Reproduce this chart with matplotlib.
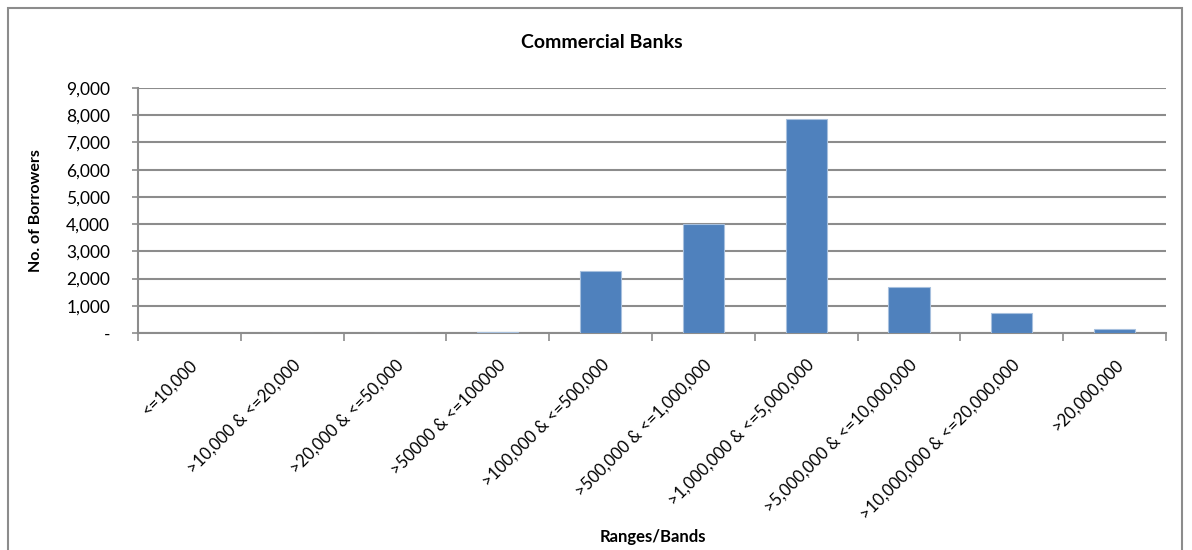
import matplotlib
matplotlib.use('Agg')
import matplotlib.pyplot as plt
from matplotlib.patches import Rectangle
from matplotlib.ticker import FuncFormatter
import numpy as np

plt.rcParams['font.family'] = ['Lato', 'DejaVu Sans']

bands = ['<=10,000', '>10,000 & <=20,000', '>20,000 & <=50,000', '>50000 & <=100000',
         '>100,000 & <=500,000', '>500,000 & <=1,000,000', '>1,000,000 & <=5,000,000',
         '>5,000,000 & <=10,000,000', '>10,000,000 & <=20,000,000', '>20,000,000']
borrowers = [2, 4, 6, 20, 2290, 4000, 7850, 1690, 740, 150]

fig = plt.figure(figsize=(11.92, 5.5), dpi=100)
fig.patches.append(Rectangle((0.007, -0.05), 0.985, 1.035, transform=fig.transFigure,
                             fill=False, edgecolor='#8c8c8c', linewidth=1.5))
ax = fig.add_axes([0.1158, 0.3945, 0.8624, 0.4455])

x = np.arange(len(bands))
ax.bar(x, borrowers, width=0.4, color='#4f81bd', edgecolor='#a7c0de', linewidth=0.8, zorder=3)

ax.set_xlim(-0.5, len(bands) - 0.5)
ax.set_ylim(0, 9000)
ax.set_yticks(np.arange(0, 9001, 1000))
ax.yaxis.set_major_formatter(FuncFormatter(lambda v, p: '-' if v == 0 else f'{int(v):,}'))
ax.grid(axis='y', color='#8c8c8c', linewidth=1.5, zorder=0)

ax.set_xticks(x)
ax.set_xticklabels(bands, rotation=45, ha='right', va='top', rotation_mode='anchor', fontsize=12)
ax.set_xticks(np.arange(-0.5, len(bands)), minor=True)
ax.tick_params(axis='x', which='major', length=0, pad=17)
ax.tick_params(axis='x', which='minor', length=6, color='#8c8c8c', width=1.2)
ax.tick_params(axis='y', length=4, color='#8c8c8c', width=1.2, labelsize=12.5, pad=16)

for s in ['top', 'right']:
    ax.spines[s].set_visible(False)
for s in ['left', 'bottom']:
    ax.spines[s].set_color('#8c8c8c')
    ax.spines[s].set_linewidth(1.5)

fig.text(0.505, 0.922, 'Commercial Banks', ha='center', va='center', fontsize=14, fontweight='bold')
fig.text(0.03, 0.617, 'No. of Borrowers', ha='center', va='center', rotation=90, fontsize=11.5, fontweight='bold')
fig.text(0.548, 0.023, 'Ranges/Bands', ha='center', va='center', fontsize=12, fontweight='bold')

plt.savefig('out.png', dpi=100)
